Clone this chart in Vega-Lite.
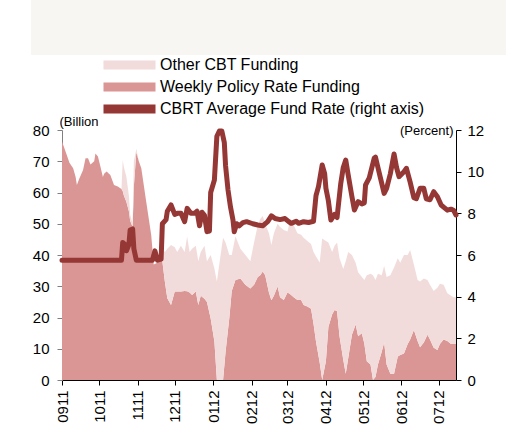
{
  "$schema": "https://vega.github.io/schema/vega-lite/v6.json",
  "background": "white",
  "padding": 0,
  "spacing": 60,
  "center": true,
  "config": {
    "view": {"stroke": null},
    "font": "Liberation Sans",
    "axis": {"labelFont": "Liberation Sans", "labelFontSize": 15, "labelColor": "#000000", "titleFont": "Liberation Sans", "grid": false}
  },
  "datasets": {
    "funding": [
      {"date": "2011-09-01", "weekly": 76.3, "other": 0},
      {"date": "2011-09-04", "weekly": 73, "other": 0},
      {"date": "2011-09-07", "weekly": 69.5, "other": 0},
      {"date": "2011-09-10", "weekly": 67.8, "other": 0},
      {"date": "2011-09-12", "weekly": 65, "other": 0},
      {"date": "2011-09-13", "weekly": 62.4, "other": 0},
      {"date": "2011-09-15", "weekly": 64.5, "other": 0},
      {"date": "2011-09-18", "weekly": 67.2, "other": 0},
      {"date": "2011-09-20", "weekly": 71, "other": 0},
      {"date": "2011-09-22", "weekly": 71, "other": 0},
      {"date": "2011-09-24", "weekly": 69, "other": 0},
      {"date": "2011-09-27", "weekly": 70, "other": 0},
      {"date": "2011-09-28", "weekly": 72.5, "other": 0},
      {"date": "2011-09-30", "weekly": 71.5, "other": 0},
      {"date": "2011-10-02", "weekly": 68.3, "other": 0},
      {"date": "2011-10-04", "weekly": 65, "other": 0},
      {"date": "2011-10-05", "weekly": 66, "other": 0},
      {"date": "2011-10-07", "weekly": 66.7, "other": 0},
      {"date": "2011-10-10", "weekly": 65.6, "other": 0},
      {"date": "2011-10-13", "weekly": 62.4, "other": 0},
      {"date": "2011-10-16", "weekly": 61.9, "other": 0},
      {"date": "2011-10-19", "weekly": 61.1, "other": 0},
      {"date": "2011-10-20", "weekly": 60.5, "other": 9.9},
      {"date": "2011-10-21", "weekly": 59, "other": 9},
      {"date": "2011-10-23", "weekly": 57, "other": 8},
      {"date": "2011-10-25", "weekly": 54, "other": 5},
      {"date": "2011-10-26", "weekly": 51, "other": 2},
      {"date": "2011-10-28", "weekly": 49, "other": 1},
      {"date": "2011-10-29", "weekly": 62, "other": 8},
      {"date": "2011-10-31", "weekly": 73, "other": 1},
      {"date": "2011-11-02", "weekly": 70, "other": 0},
      {"date": "2011-11-04", "weekly": 67.8, "other": 0},
      {"date": "2011-11-08", "weekly": 57, "other": 0},
      {"date": "2011-11-12", "weekly": 46.4, "other": 0},
      {"date": "2011-11-14", "weekly": 37, "other": 0},
      {"date": "2011-11-17", "weekly": 37.5, "other": 0},
      {"date": "2011-11-19", "weekly": 39, "other": 0},
      {"date": "2011-11-21", "weekly": 38, "other": 4},
      {"date": "2011-11-23", "weekly": 31.5, "other": 9.5},
      {"date": "2011-11-25", "weekly": 26.2, "other": 15.8},
      {"date": "2011-11-28", "weekly": 24, "other": 19.2},
      {"date": "2011-12-01", "weekly": 28.3, "other": 14.2},
      {"date": "2011-12-03", "weekly": 28.3, "other": 12.7},
      {"date": "2011-12-06", "weekly": 28.3, "other": 14.7},
      {"date": "2011-12-09", "weekly": 28.5, "other": 12.5},
      {"date": "2011-12-11", "weekly": 28.4, "other": 17.5},
      {"date": "2011-12-13", "weekly": 28, "other": 13},
      {"date": "2011-12-15", "weekly": 27.2, "other": 14.8},
      {"date": "2011-12-18", "weekly": 28.3, "other": 14.7},
      {"date": "2011-12-20", "weekly": 24, "other": 14},
      {"date": "2011-12-22", "weekly": 27, "other": 14},
      {"date": "2011-12-25", "weekly": 26, "other": 17},
      {"date": "2011-12-27", "weekly": 25, "other": 13},
      {"date": "2011-12-30", "weekly": 19.7, "other": 20.3},
      {"date": "2012-01-02", "weekly": 12.3, "other": 23.4},
      {"date": "2012-01-04", "weekly": 0, "other": 31.5},
      {"date": "2012-01-07", "weekly": 0, "other": 40},
      {"date": "2012-01-09", "weekly": 0, "other": 45.5},
      {"date": "2012-01-11", "weekly": 9, "other": 35},
      {"date": "2012-01-14", "weekly": 19.7, "other": 20.3},
      {"date": "2012-01-16", "weekly": 28.5, "other": 11.5},
      {"date": "2012-01-19", "weekly": 32, "other": 14},
      {"date": "2012-01-23", "weekly": 32.5, "other": 9.5},
      {"date": "2012-01-27", "weekly": 30.5, "other": 9.5},
      {"date": "2012-01-31", "weekly": 29.3, "other": 8.7},
      {"date": "2012-02-03", "weekly": 30.5, "other": 13.5},
      {"date": "2012-02-06", "weekly": 33, "other": 16.5},
      {"date": "2012-02-08", "weekly": 33.5, "other": 18},
      {"date": "2012-02-10", "weekly": 34.7, "other": 17.8},
      {"date": "2012-02-12", "weekly": 33.5, "other": 16.5},
      {"date": "2012-02-15", "weekly": 28, "other": 19},
      {"date": "2012-02-17", "weekly": 25.5, "other": 17.7},
      {"date": "2012-02-19", "weekly": 27, "other": 20},
      {"date": "2012-02-22", "weekly": 29.9, "other": 20.1},
      {"date": "2012-02-24", "weekly": 26.5, "other": 22.5},
      {"date": "2012-02-27", "weekly": 25.6, "other": 22.4},
      {"date": "2012-03-01", "weekly": 28, "other": 19.5},
      {"date": "2012-03-03", "weekly": 27.5, "other": 23.5},
      {"date": "2012-03-06", "weekly": 26.5, "other": 23.1},
      {"date": "2012-03-09", "weekly": 25.6, "other": 21.4},
      {"date": "2012-03-12", "weekly": 25.6, "other": 20.9},
      {"date": "2012-03-14", "weekly": 24, "other": 21.5},
      {"date": "2012-03-17", "weekly": 23.5, "other": 21},
      {"date": "2012-03-20", "weekly": 22.8, "other": 20.7},
      {"date": "2012-03-22", "weekly": 18, "other": 23},
      {"date": "2012-03-24", "weekly": 12.3, "other": 27.2},
      {"date": "2012-03-27", "weekly": 5.5, "other": 32.1},
      {"date": "2012-03-29", "weekly": 0, "other": 45.3},
      {"date": "2012-04-01", "weekly": 6, "other": 38.5},
      {"date": "2012-04-03", "weekly": 17, "other": 27},
      {"date": "2012-04-06", "weekly": 21, "other": 20},
      {"date": "2012-04-08", "weekly": 22.4, "other": 20.6},
      {"date": "2012-04-10", "weekly": 22, "other": 22},
      {"date": "2012-04-12", "weekly": 14, "other": 25},
      {"date": "2012-04-15", "weekly": 6.5, "other": 29},
      {"date": "2012-04-17", "weekly": 2, "other": 36},
      {"date": "2012-04-19", "weekly": 7, "other": 34},
      {"date": "2012-04-22", "weekly": 14.5, "other": 25.5},
      {"date": "2012-04-25", "weekly": 17.8, "other": 19.7},
      {"date": "2012-04-27", "weekly": 14, "other": 20.5},
      {"date": "2012-04-30", "weekly": 15, "other": 18},
      {"date": "2012-05-02", "weekly": 11.7, "other": 20.3},
      {"date": "2012-05-04", "weekly": 6, "other": 27.5},
      {"date": "2012-05-07", "weekly": 5, "other": 29},
      {"date": "2012-05-09", "weekly": 0, "other": 33.5},
      {"date": "2012-05-11", "weekly": 1, "other": 31},
      {"date": "2012-05-13", "weekly": 5, "other": 29},
      {"date": "2012-05-16", "weekly": 9, "other": 24.5},
      {"date": "2012-05-18", "weekly": 12, "other": 24.5},
      {"date": "2012-05-20", "weekly": 5, "other": 28},
      {"date": "2012-05-23", "weekly": 2, "other": 31.5},
      {"date": "2012-05-26", "weekly": 2, "other": 34},
      {"date": "2012-05-29", "weekly": 7.5, "other": 31.5},
      {"date": "2012-05-31", "weekly": 8, "other": 29.5},
      {"date": "2012-06-03", "weekly": 8.5, "other": 31.5},
      {"date": "2012-06-06", "weekly": 11.5, "other": 28.5},
      {"date": "2012-06-08", "weekly": 13, "other": 28.6},
      {"date": "2012-06-11", "weekly": 16, "other": 21},
      {"date": "2012-06-14", "weekly": 12.5, "other": 19.5},
      {"date": "2012-06-16", "weekly": 10.5, "other": 21},
      {"date": "2012-06-19", "weekly": 12, "other": 20.5},
      {"date": "2012-06-22", "weekly": 14.5, "other": 17.5},
      {"date": "2012-06-24", "weekly": 13, "other": 17.5},
      {"date": "2012-06-27", "weekly": 10.3, "other": 18.2},
      {"date": "2012-06-30", "weekly": 9.6, "other": 19.9},
      {"date": "2012-07-02", "weekly": 11.5, "other": 19.3},
      {"date": "2012-07-05", "weekly": 13, "other": 17.5},
      {"date": "2012-07-08", "weekly": 12.5, "other": 15.3},
      {"date": "2012-07-11", "weekly": 11.5, "other": 15.5},
      {"date": "2012-07-13", "weekly": 11.5, "other": 15},
      {"date": "2012-07-15", "weekly": 11.5, "other": 15}
    ],
    "rate": [
      {"date": "2011-09-01", "rate": 5.75},
      {"date": "2011-10-19", "rate": 5.75},
      {"date": "2011-10-20", "rate": 6.6},
      {"date": "2011-10-22", "rate": 6.5},
      {"date": "2011-10-23", "rate": 6.2},
      {"date": "2011-10-25", "rate": 6.5},
      {"date": "2011-10-26", "rate": 7.2},
      {"date": "2011-10-28", "rate": 7.25},
      {"date": "2011-10-29", "rate": 6.3},
      {"date": "2011-10-31", "rate": 5.75},
      {"date": "2011-11-13", "rate": 5.75},
      {"date": "2011-11-15", "rate": 6.2},
      {"date": "2011-11-17", "rate": 5.75},
      {"date": "2011-11-20", "rate": 5.8},
      {"date": "2011-11-21", "rate": 7.5},
      {"date": "2011-11-24", "rate": 7.7},
      {"date": "2011-11-25", "rate": 8.1},
      {"date": "2011-11-28", "rate": 8.4},
      {"date": "2011-12-01", "rate": 7.95},
      {"date": "2011-12-03", "rate": 8.0},
      {"date": "2011-12-06", "rate": 8.0},
      {"date": "2011-12-09", "rate": 7.6},
      {"date": "2011-12-11", "rate": 8.24},
      {"date": "2011-12-14", "rate": 8.0},
      {"date": "2011-12-17", "rate": 8.0},
      {"date": "2011-12-19", "rate": 8.1},
      {"date": "2011-12-21", "rate": 7.4},
      {"date": "2011-12-23", "rate": 8.05},
      {"date": "2011-12-25", "rate": 7.9},
      {"date": "2011-12-27", "rate": 7.12},
      {"date": "2011-12-29", "rate": 7.15},
      {"date": "2011-12-30", "rate": 9.0},
      {"date": "2012-01-02", "rate": 9.6},
      {"date": "2012-01-04", "rate": 11.7},
      {"date": "2012-01-06", "rate": 11.95},
      {"date": "2012-01-08", "rate": 11.95},
      {"date": "2012-01-10", "rate": 11.4},
      {"date": "2012-01-11", "rate": 10.3},
      {"date": "2012-01-13", "rate": 9.12},
      {"date": "2012-01-15", "rate": 8.3},
      {"date": "2012-01-17", "rate": 7.68},
      {"date": "2012-01-18", "rate": 7.12},
      {"date": "2012-01-20", "rate": 7.5},
      {"date": "2012-01-22", "rate": 7.4},
      {"date": "2012-01-25", "rate": 7.55},
      {"date": "2012-01-28", "rate": 7.6},
      {"date": "2012-02-02", "rate": 7.5},
      {"date": "2012-02-06", "rate": 7.44},
      {"date": "2012-02-10", "rate": 7.4},
      {"date": "2012-02-14", "rate": 7.6},
      {"date": "2012-02-17", "rate": 7.88},
      {"date": "2012-02-20", "rate": 7.75},
      {"date": "2012-02-24", "rate": 7.7},
      {"date": "2012-02-28", "rate": 7.75},
      {"date": "2012-03-02", "rate": 7.6},
      {"date": "2012-03-04", "rate": 7.52},
      {"date": "2012-03-08", "rate": 7.62},
      {"date": "2012-03-10", "rate": 7.52},
      {"date": "2012-03-14", "rate": 7.6},
      {"date": "2012-03-18", "rate": 7.56},
      {"date": "2012-03-22", "rate": 7.62},
      {"date": "2012-03-24", "rate": 8.85},
      {"date": "2012-03-26", "rate": 9.28},
      {"date": "2012-03-29", "rate": 10.32},
      {"date": "2012-03-31", "rate": 9.9},
      {"date": "2012-04-01", "rate": 9.2},
      {"date": "2012-04-03", "rate": 8.6},
      {"date": "2012-04-05", "rate": 7.68},
      {"date": "2012-04-08", "rate": 7.95},
      {"date": "2012-04-10", "rate": 7.8},
      {"date": "2012-04-13", "rate": 9.44},
      {"date": "2012-04-15", "rate": 10.2},
      {"date": "2012-04-17", "rate": 10.56},
      {"date": "2012-04-19", "rate": 9.84},
      {"date": "2012-04-22", "rate": 8.8},
      {"date": "2012-04-24", "rate": 8.16},
      {"date": "2012-04-27", "rate": 8.56},
      {"date": "2012-04-30", "rate": 8.45},
      {"date": "2012-05-02", "rate": 8.5},
      {"date": "2012-05-03", "rate": 9.36},
      {"date": "2012-05-06", "rate": 9.7},
      {"date": "2012-05-10", "rate": 10.65},
      {"date": "2012-05-11", "rate": 10.7},
      {"date": "2012-05-13", "rate": 10.2},
      {"date": "2012-05-15", "rate": 9.7},
      {"date": "2012-05-18", "rate": 8.96},
      {"date": "2012-05-20", "rate": 9.2},
      {"date": "2012-05-23", "rate": 9.9},
      {"date": "2012-05-26", "rate": 10.85},
      {"date": "2012-05-28", "rate": 10.2},
      {"date": "2012-05-30", "rate": 9.76},
      {"date": "2012-06-03", "rate": 10.0},
      {"date": "2012-06-05", "rate": 10.16},
      {"date": "2012-06-08", "rate": 9.5},
      {"date": "2012-06-11", "rate": 8.75},
      {"date": "2012-06-13", "rate": 8.7},
      {"date": "2012-06-16", "rate": 9.2},
      {"date": "2012-06-19", "rate": 9.2},
      {"date": "2012-06-21", "rate": 8.7},
      {"date": "2012-06-24", "rate": 8.65},
      {"date": "2012-06-27", "rate": 9.04},
      {"date": "2012-06-30", "rate": 8.8},
      {"date": "2012-07-03", "rate": 8.4},
      {"date": "2012-07-05", "rate": 8.3},
      {"date": "2012-07-08", "rate": 8.15},
      {"date": "2012-07-11", "rate": 8.2},
      {"date": "2012-07-13", "rate": 8.15},
      {"date": "2012-07-15", "rate": 7.92}
    ]
  },
  "vconcat": [
    {
      "width": 506,
      "height": 55,
      "data": {"values": []},
      "mark": "point",
      "view": {"fill": "#f7f6f2", "stroke": null}
    },
    {
      "width": 394,
      "height": 250,
      "layer": [
        {
          "data": {"name": "funding"},
          "transform": [{"fold": ["weekly", "other"], "as": ["series", "value"]}],
          "mark": {"type": "area", "opacity": 1, "interpolate": "linear"},
          "encoding": {
            "x": {
              "field": "date",
              "type": "temporal",
              "scale": {"type": "utc", "domain": [{"year": 2011, "month": 9, "date": 1, "utc": true}, {"year": 2012, "month": 7, "date": 15, "utc": true}]},
              "axis": {
                "title": null,
                "format": "%m%y",
                "tickCount": {"interval": "month", "step": 1},
                "labelAngle": -90,
                "labelPadding": 5,
                "tickSize": 5,
                "domainColor": "#000000",
                "tickColor": "#000000",
                "labelFontSize": 15
              }
            },
            "y": {
              "field": "value",
              "type": "quantitative",
              "stack": "zero",
              "scale": {"domain": [0, 80], "nice": false},
              "axis": {
                "orient": "left",
                "values": [0, 10, 20, 30, 40, 50, 60, 70, 80],
                "title": "(Billion",
                "titleAngle": 0,
                "titleAlign": "left",
                "titleBaseline": "alphabetic",
                "titleX": -3,
                "titleY": -5,
                "titleFontSize": 13,
                "titleFontWeight": "normal",
                "titleColor": "#000000",
                "tickSize": 5,
                "labelPadding": 8,
                "minExtent": 62,
                "maxExtent": 62,
                "domainColor": "#808080",
                "tickColor": "#808080"
              }
            },
            "color": {
              "field": "series",
              "type": "nominal",
              "scale": {"domain": ["other", "weekly", "rate"], "range": ["#f2dcdb", "#d99694", "#953735"]},
              "legend": {
                "orient": "none",
                "legendX": 68,
                "legendY": 54,
                "title": null,
                "labelExpr": "datum.label === 'other' ? 'Other CBT Funding' : datum.label === 'weekly' ? 'Weekly Policy Rate Funding' : 'CBRT Average Fund Rate (right axis)'",
                "labelFont": "Liberation Sans",
                "labelFontSize": 16,
                "labelColor": "#000000",
                "labelLimit": 400,
                "labelOffset": 39,
                "rowPadding": 0,
                "clipHeight": 22,
                "padding": 0,
                "symbolType": "M-1,0H7",
                "symbolSize": 169,
                "symbolStrokeWidth": 9,
                "encode": {
                  "symbols": {
                    "update": {
                      "fill": {"value": "transparent"},
                      "stroke": {"scale": "color", "field": "value"},
                      "strokeWidth": {"signal": "datum.value === 'rate' ? 5 : 9"},
                      "strokeCap": {"signal": "datum.value === 'rate' ? 'round' : 'butt'"},
                      "opacity": {"value": 1}
                    }
                  }
                }
              }
            },
            "order": {"field": "series", "sort": "descending"}
          }
        },
        {
          "data": {"name": "rate"},
          "mark": {"type": "line", "strokeWidth": 5, "strokeCap": "round", "strokeJoin": "round"},
          "encoding": {
            "x": {"field": "date", "type": "temporal"},
            "y": {
              "field": "rate",
              "type": "quantitative",
              "scale": {"domain": [0, 12], "nice": false},
              "axis": {
                "orient": "right",
                "values": [0, 2, 4, 6, 8, 10, 12],
                "title": "(Percent)",
                "titleAngle": 0,
                "titleAlign": "right",
                "titleBaseline": "alphabetic",
                "titleX": -3,
                "titleY": 4,
                "titleFontSize": 13,
                "titleFontWeight": "normal",
                "titleColor": "#000000",
                "tickSize": 5,
                "labelPadding": 6,
                "minExtent": 50,
                "maxExtent": 50,
                "domainColor": "#000000",
                "tickColor": "#000000"
              }
            },
            "color": {"datum": "rate", "type": "nominal", "legend": null}
          }
        }
      ],
      "resolve": {"scale": {"y": "independent"}}
    }
  ]
}
